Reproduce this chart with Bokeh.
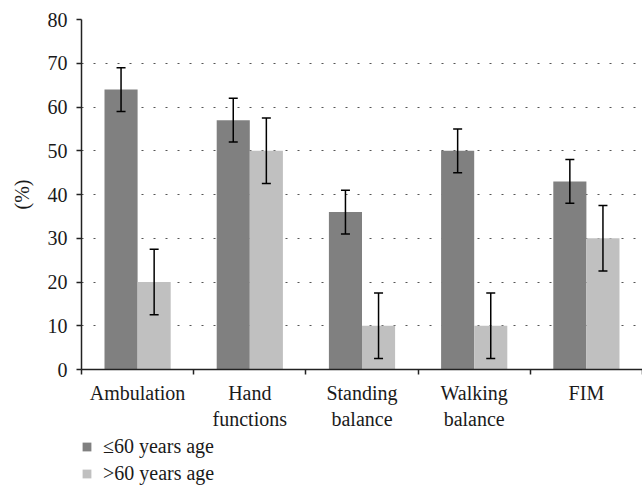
import numpy as np
from bokeh.plotting import figure
from bokeh.layouts import column
from bokeh.models import (ColumnDataSource, Range1d, FixedTicker, Whisker,
                          Legend, LegendItem)
from bokeh.embed import file_html
from bokeh.resources import INLINE

categories = ["Ambulation", "Hand\nfunctions", "Standing\nbalance", "Walking\nbalance", "FIM"]
young_vals = [64, 57, 36, 50, 43]
young_err = [5, 5, 5, 5, 5]
old_vals = [20, 50, 10, 10, 30]
old_err = [7.5, 7.5, 7.5, 7.5, 7.5]
series_names = ["\u226460 years age", ">60 years age"]
y_ticks = [0, 10, 20, 30, 40, 50, 60, 70, 80]

DARK = "#808080"
LIGHT = "#c0c0c0"
FONT = "Liberation Serif"
TXT = "#1a1a1a"
FS = "20px"

n = len(categories)
centers = np.arange(n) + 0.5
bw = 0.295

src_y = ColumnDataSource(dict(
    x=centers - bw / 2, top=young_vals,
    upper=np.array(young_vals) + np.array(young_err),
    lower=np.array(young_vals) - np.array(young_err)))
src_o = ColumnDataSource(dict(
    x=centers + bw / 2, top=old_vals,
    upper=np.array(old_vals) + np.array(old_err),
    lower=np.array(old_vals) - np.array(old_err)))

p = figure(width=642, height=432, output_backend="svg", toolbar_location=None,
           x_range=Range1d(0, n), y_range=Range1d(0, 80),
           min_border_left=81, min_border_top=19, min_border_right=0,
           min_border_bottom=63)
p.outline_line_color = None

p.vbar(x="x", top="top", width=bw, source=src_y, fill_color=DARK, line_color=None)
p.vbar(x="x", top="top", width=bw, source=src_o, fill_color=LIGHT, line_color=None)

for s in (src_y, src_o):
    w = Whisker(base="x", upper="upper", lower="lower", source=s,
                line_color="black", line_width=1.5, level="overlay")
    for h in (w.upper_head, w.lower_head):
        h.size = 9
        h.line_width = 1.5
        h.line_color = "black"
    p.add_layout(w)

# x axis: labels at category centres, ticks at boundaries (minor ticks)
p.xaxis.ticker = FixedTicker(ticks=list(centers), minor_ticks=list(np.arange(n + 1)))
p.xaxis.major_label_overrides = {float(c): lab for c, lab in zip(centers, categories)}
p.xaxis.major_tick_line_color = None
p.xaxis.minor_tick_line_color = "#222222"
p.xaxis.minor_tick_line_width = 1.5
p.xaxis.minor_tick_out = 5
p.xaxis.minor_tick_in = 0
p.xaxis.major_label_standoff = 6
p.xaxis.major_label_text_font = FONT
p.xaxis.major_label_text_font_size = FS
p.xaxis.major_label_text_color = TXT
p.xaxis.axis_line_color = "#222222"
p.xaxis.axis_line_width = 1.5

p.yaxis.ticker = FixedTicker(ticks=y_ticks)
p.yaxis.minor_tick_line_color = None
p.yaxis.major_tick_out = 5
p.yaxis.major_tick_in = 0
p.yaxis.major_tick_line_color = "#222222"
p.yaxis.major_tick_line_width = 1.5
p.yaxis.axis_line_color = "#222222"
p.yaxis.axis_line_width = 1.5
p.yaxis.major_label_standoff = 9
p.yaxis.major_label_text_font = FONT
p.yaxis.major_label_text_font_size = FS
p.yaxis.major_label_text_color = TXT
p.yaxis.axis_label = "(%)"
p.yaxis.axis_label_text_font = FONT
p.yaxis.axis_label_text_font_size = FS
p.yaxis.axis_label_text_font_style = "normal"
p.yaxis.axis_label_text_color = TXT
p.yaxis.axis_label_standoff = 12

p.xgrid.grid_line_color = None
p.ygrid.grid_line_color = "#555555"
p.ygrid.grid_line_dash = "2 10"
p.ygrid.grid_line_width = 1

# legend in its own strip below the chart (its frame is aligned with the chart's)
lg = figure(width=642, height=53, output_backend="svg", toolbar_location=None,
            x_range=Range1d(0, 1), y_range=Range1d(0, 1),
            x_axis_location=None, y_axis_location=None,
            min_border_left=0, min_border_right=0, min_border_top=0, min_border_bottom=0)
lg.grid.visible = False
lg.outline_line_color = None
lg.border_fill_color = "white"
lg.background_fill_color = "white"
# legend swatches: zero-height bars that only carry the series styles
l1 = lg.vbar(x=[0.5], top=[0], width=0.1, fill_color=DARK, line_color=None)
l2 = lg.vbar(x=[0.5], top=[0], width=0.1, fill_color=LIGHT, line_color=None)

legend = Legend(items=[LegendItem(label=series_names[0], renderers=[l1]),
                       LegendItem(label=series_names[1], renderers=[l2])],
                orientation="vertical", location=(0, 0))
legend.border_line_color = None
legend.background_fill_alpha = 0
legend.padding = 0
legend.margin = 0
legend.spacing = 4
legend.glyph_width = 11
legend.glyph_height = 11
legend.label_height = 20
legend.label_standoff = 11
legend.label_text_font = FONT
legend.label_text_font_size = FS
legend.label_text_color = TXT
legend.label_text_baseline = "middle"
lg.add_layout(legend, "center")

layout = column(p, lg, spacing=0)
open("out.html", "w").write(file_html(layout, INLINE))
